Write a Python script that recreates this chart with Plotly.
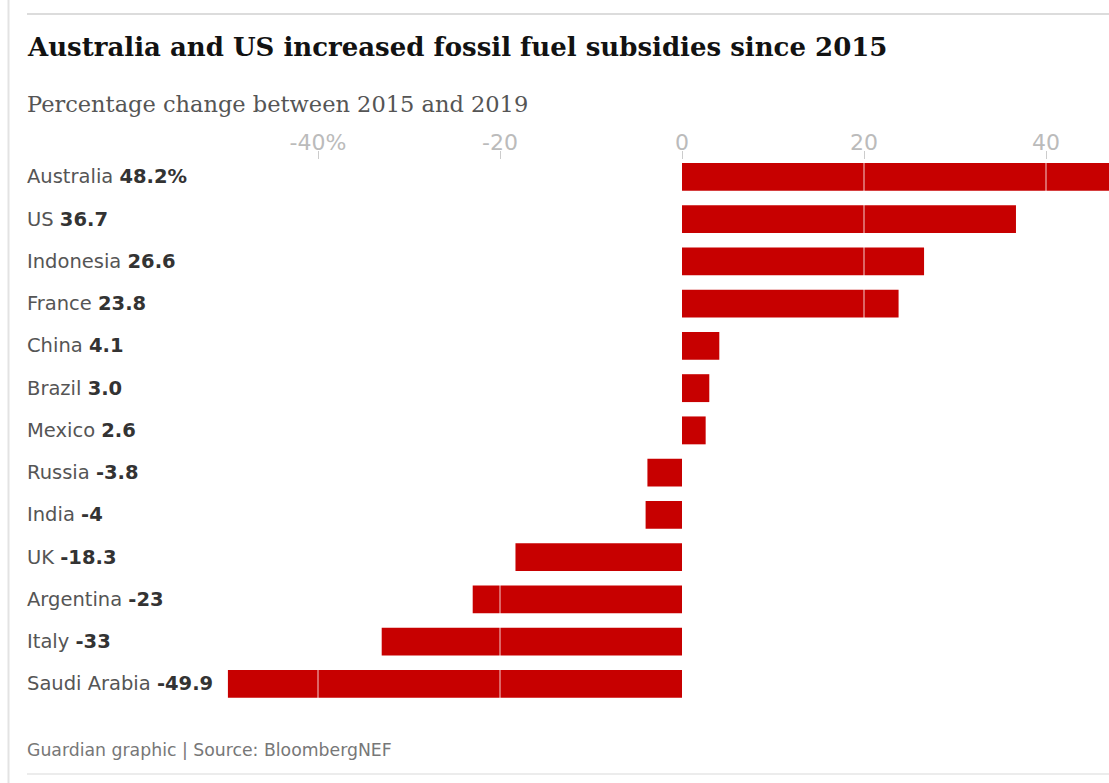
import plotly.graph_objects as go

countries = ["Australia", "US", "Indonesia", "France", "China", "Brazil", "Mexico",
             "Russia", "India", "UK", "Argentina", "Italy", "Saudi Arabia"]
values = [48.2, 36.7, 26.6, 23.8, 4.1, 3.0, 2.6, -3.8, -4, -18.3, -23, -33, -49.9]
value_labels = ["48.2%", "36.7", "26.6", "23.8", "4.1", "3.0", "2.6",
                "-3.8", "-4", "-18.3", "-23", "-33", "-49.9"]
tick_vals = [-40, -20, 0, 20, 40]
tick_text = ["-40%", "-20", "0", "20", "40"]

W, H = 1109, 783
ML, MR, MT, MB = 27, 0, 160, 78
PW, PH = W - ML - MR, H - MT - MB


def px(xp):
    return (xp - ML) / PW


def py(yp):
    return (H - MB - yp) / PH


RED = "#c70000"
SANS = "DejaVu Sans"
SERIF = "DejaVu Serif"

fig = go.Figure()
fig.add_trace(go.Bar(
    x=values, y=countries, orientation="h",
    marker=dict(color=RED, line=dict(width=0)),
    hoverinfo="skip",
))

annotations = []
for c, v in zip(countries, value_labels):
    annotations.append(dict(
        x=px(25), xref="paper", y=c, yref="y", xanchor="left", yanchor="middle",
        text=f"<span style='color:#555'>{c}</span> <b>{v}</b>",
        showarrow=False, font=dict(family=SANS, size=19.5, color="#333"),
    ))

annotations += [
    dict(x=px(25), y=py(47), xref="paper", yref="paper", xanchor="left", yanchor="middle",
         text="<b>Australia and US increased fossil fuel subsidies since 2015</b>",
         showarrow=False, font=dict(family=SERIF, size=26, color="#121212")),
    dict(x=px(25), y=py(104), xref="paper", yref="paper", xanchor="left", yanchor="middle",
         text="Percentage change between 2015 and 2019",
         showarrow=False, font=dict(family=SERIF, size=22.5, color="#555")),
    dict(x=px(25), y=py(750), xref="paper", yref="paper", xanchor="left", yanchor="middle",
         text="Guardian graphic | Source: BloombergNEF",
         showarrow=False, font=dict(family=SANS, size=17.3, color="#777")),
]

shapes = []
for v in tick_vals:
    if v != 0:
        shapes.append(dict(type="line", xref="x", yref="paper", x0=v, x1=v, y0=0, y1=1,
                           line=dict(color="rgba(255,255,255,0.8)", width=1), layer="above"))
shapes += [
    dict(type="line", xref="paper", yref="paper", x0=px(8.5), x1=px(8.5), y0=py(0), y1=py(783),
         line=dict(color="#e3e3e3", width=2), layer="above"),
    dict(type="line", xref="paper", yref="paper", x0=px(27), x1=px(1109), y0=py(14), y1=py(14),
         line=dict(color="#dcdcdc", width=2), layer="above"),
    dict(type="line", xref="paper", yref="paper", x0=px(27), x1=px(1109), y0=py(774), y1=py(774),
         line=dict(color="#ececec", width=2), layer="above"),
]

fig.update_layout(
    width=W, height=H,
    margin=dict(l=ML, r=MR, t=MT, b=MB, pad=0),
    paper_bgcolor="white", plot_bgcolor="white",
    showlegend=False, bargap=0.34,
    annotations=annotations, shapes=shapes,
    xaxis=dict(
        side="top", range=[(ML - 682) / 9.1, (W - 682) / 9.1],
        tickvals=tick_vals, ticktext=tick_text,
        ticks="outside", ticklen=8, tickcolor="#cccccc", tickwidth=1,
        tickfont=dict(family=SANS, size=22, color="#bbbbbb"),
        ticklabelstandoff=-8,
        showgrid=False, zeroline=False, showline=False, fixedrange=True,
    ),
    yaxis=dict(
        categoryorder="array", categoryarray=countries,
        range=[12.5, -0.4],
        showticklabels=False, showgrid=False, zeroline=False, ticks="", fixedrange=True,
    ),
)

fig.write_html("out.html", config={"displayModeBar": False},
               post_script="document.body.style.margin='0';")
